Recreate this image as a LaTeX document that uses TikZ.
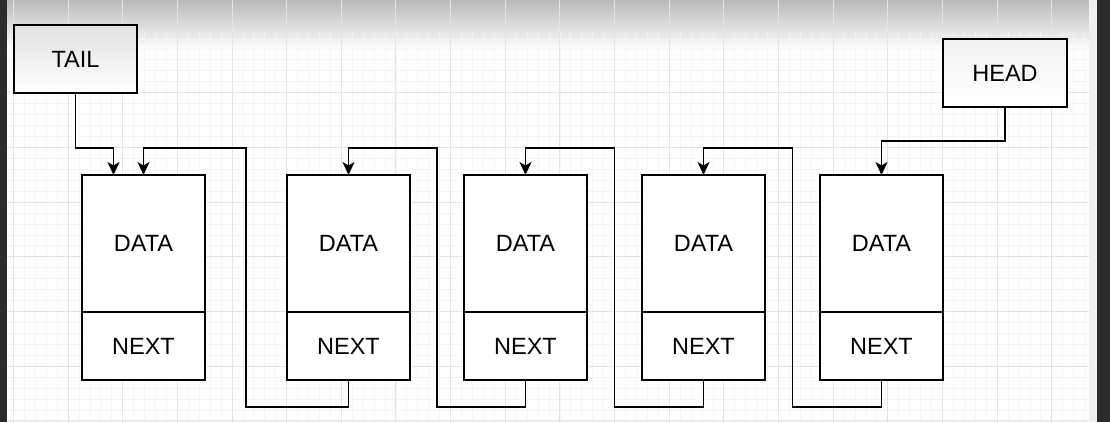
\documentclass[tikz,border=0pt]{standalone}
\usepackage{fontspec}
\setmainfont{Liberation Sans}
\usetikzlibrary{arrows.meta,positioning,calc}
\definecolor{gridminor}{HTML}{F5F5F5}
\definecolor{gridmajor}{HTML}{E4E4E4}
\definecolor{frame}{HTML}{2B2B2B}
\tikzset{
  cell/.style={draw=black, line width=1.5pt, fill=white, minimum width=123pt, inner sep=0pt, outer sep=0pt,
    font=\fontsize{23.5}{28}\selectfont},
  databox/.style={cell, minimum height=137pt},
  nextbox/.style={cell, minimum height=68pt},
  ptrbox/.style={cell, minimum height=68pt, top color=black!12, bottom color=white},
  link/.style={line width=1.5pt, -{Stealth[length=13pt,width=12pt,inset=3.5pt]}},
}
\begin{document}
\begin{tikzpicture}[x=1pt, y=-1pt]
  \useasboundingbox (0,0) rectangle (1110,422);
  \fill[white] (0,0) rectangle (1110,422);
  \fill[top color=black!27, bottom color=white] (0,0) rectangle (1110,50);
  \foreach \k in {0,...,98} \draw[gridminor, line width=0.8pt] (13.4+\k*10.93,32) -- (13.4+\k*10.93,422);
  \foreach \k in {0,...,35} \draw[gridminor, line width=0.8pt] (0,38+\k*10.94) -- (1110,38+\k*10.94);
  \foreach \k in {0,...,19} \draw[gridmajor, line width=1pt] (13.4+\k*54.65,0) -- (13.4+\k*54.65,422);
  \foreach \k in {0,...,7} \draw[gridmajor, line width=1pt] (0,38+\k*54.7) -- (1110,38+\k*54.7);

  \node[ptrbox] (tail) at (75.5,59) {TAIL};
  \node[ptrbox, minimum width=124pt, top color=black!5] (head) at (1005,73) {HEAD};

  \node[databox] (d1) at (143.5,243.5) {DATA};
  \node[databox] (d2) at (348.5,243.5) {DATA};
  \node[databox] (d3) at (525.5,243.5) {DATA};
  \node[databox] (d4) at (703.5,243.5) {DATA};
  \node[databox] (d5) at (881.5,243.5) {DATA};
  \foreach \i in {1,...,5} \node[nextbox, below=0pt of d\i] (n\i) {NEXT};

  \foreach \i/\j in {1/2,2/3,3/4,4/5} {
    \coordinate (g\i) at ($(n\i.east)!.5!(n\j.west)$);
    \draw[link] (n\j.south) -- ++(0,27) -| (g\i) |- ($(d\i.north)+(0,-27)$) -- (d\i.north);
  }
  \coordinate (tailin) at ($(d1.north)+(-30,0)$);
  \draw[link] (tail.south) |- ($(tailin)+(0,-27)$) -- (tailin);
  \draw[link] (head.south) |- ($(d5.north)+(0,-34)$) -- (d5.north);

  \fill[gray!12] (1089,0) rectangle (1097,422);
  \fill[frame] (0,0) rectangle (7,422);
  \fill[frame] (1097,0) rectangle (1110,422);
\end{tikzpicture}
\end{document}
